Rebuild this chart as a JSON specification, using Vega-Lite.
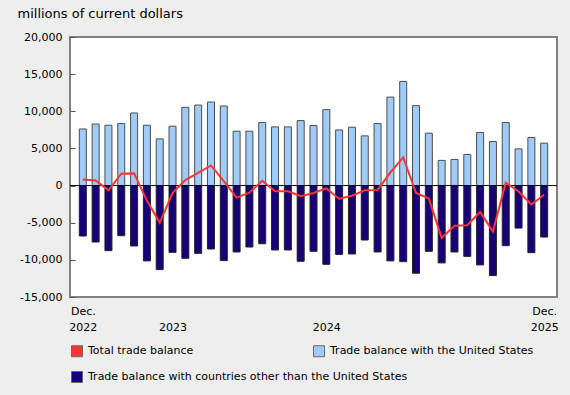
{
  "$schema": "https://vega.github.io/schema/vega-lite/v6.json",
  "width": 487,
  "height": 260,
  "autosize": {"type": "none"},
  "padding": {"left": 70, "top": 37, "right": 13, "bottom": 98},
  "background": "#eeeeee",
  "config": {
    "view": {"fill": "white", "stroke": "#808080", "strokeWidth": 2},
    "font": "DejaVu Sans",
    "axisY": {
      "labelOverlap": false, "labelBound": false, "grid": false, "domain": false,
      "ticks": true, "tickSize": -5, "tickColor": "#555555", "tickWidth": 1,
      "labelPadding": 13, "labelFontSize": 11, "labelColor": "black", "tickCount": 7
    },
    "legend": {
      "orient": "none", "symbolType": "square", "symbolSize": 121,
      "symbolStrokeColor": "#666666", "symbolStrokeWidth": 1, "labelFontSize": 11,
      "labelColor": "black", "labelOffset": 5, "title": null, "labelLimit": 400, "padding": 0
    }
  },
  "data": {
    "values": [
      {"month": "2022-12", "us": 7620, "other": -6790, "total": 830},
      {"month": "2023-01", "us": 8290, "other": -7600, "total": 690},
      {"month": "2023-02", "us": 8120, "other": -8760, "total": -640},
      {"month": "2023-03", "us": 8350, "other": -6750, "total": 1600},
      {"month": "2023-04", "us": 9770, "other": -8130, "total": 1640},
      {"month": "2023-05", "us": 8120, "other": -10140, "total": -2020},
      {"month": "2023-06", "us": 6290, "other": -11310, "total": -5020},
      {"month": "2023-07", "us": 7990, "other": -8990, "total": -1000},
      {"month": "2023-08", "us": 10530, "other": -9790, "total": 740},
      {"month": "2023-09", "us": 10840, "other": -9120, "total": 1720},
      {"month": "2023-10", "us": 11250, "other": -8540, "total": 2710},
      {"month": "2023-11", "us": 10710, "other": -10100, "total": 610},
      {"month": "2023-12", "us": 7320, "other": -8940, "total": -1620},
      {"month": "2024-01", "us": 7320, "other": -8270, "total": -950},
      {"month": "2024-02", "us": 8480, "other": -7830, "total": 650},
      {"month": "2024-03", "us": 7900, "other": -8670, "total": -770},
      {"month": "2024-04", "us": 7900, "other": -8670, "total": -770},
      {"month": "2024-05", "us": 8750, "other": -10190, "total": -1440},
      {"month": "2024-06", "us": 8080, "other": -8850, "total": -1000},
      {"month": "2024-07", "us": 10220, "other": -10600, "total": -380},
      {"month": "2024-08", "us": 7490, "other": -9260, "total": -1770},
      {"month": "2024-09", "us": 7850, "other": -9210, "total": -1360},
      {"month": "2024-10", "us": 6690, "other": -7330, "total": -640},
      {"month": "2024-11", "us": 8350, "other": -8940, "total": -590},
      {"month": "2024-12", "us": 11910, "other": -10140, "total": 1770},
      {"month": "2025-01", "us": 14020, "other": -10240, "total": 3800},
      {"month": "2025-02", "us": 10760, "other": -11800, "total": -1000},
      {"month": "2025-03", "us": 7050, "other": -8850, "total": -1750},
      {"month": "2025-04", "us": 3390, "other": -10410, "total": -7040},
      {"month": "2025-05", "us": 3520, "other": -8940, "total": -5420},
      {"month": "2025-06", "us": 4190, "other": -9530, "total": -5340},
      {"month": "2025-07", "us": 7140, "other": -10680, "total": -3550},
      {"month": "2025-08", "us": 5930, "other": -12110, "total": -6180},
      {"month": "2025-09", "us": 8480, "other": -8090, "total": 390},
      {"month": "2025-10", "us": 4940, "other": -5720, "total": -790},
      {"month": "2025-11", "us": 6470, "other": -9030, "total": -2540},
      {"month": "2025-12", "us": 5710, "other": -6930, "total": -1240}
    ]
  },
  "layer": [
    {
      "mark": {"type": "bar", "size": 7, "stroke": "#4d4d4d", "strokeWidth": 1},
      "encoding": {
        "x": {
          "field": "month", "type": "ordinal",
          "scale": {"type": "point", "padding": 1.1},
          "axis": {
            "title": null, "domain": false, "ticks": false, "labelAngle": 0,
            "labelFontSize": 11, "labelColor": "black", "labelPadding": 8,
            "labelLineHeight": 16, "labelOverlap": false, "labelBound": false,
            "labelExpr": "datum.value == '2022-12' ? ['Dec.', '2022'] : datum.value == '2023-07' ? ['', '2023'] : datum.value == '2024-07' ? ['', '2024'] : datum.value == '2025-12' ? ['Dec.', '2025'] : ''"
          }
        },
        "y": {
          "field": "us", "type": "quantitative",
          "scale": {"domain": [-15000, 20000], "nice": false},
          "axis": {
            "format": ",.0f",
            "labelExpr": "replace(datum.label, '\u2212', '-')",
            "labelOverlap": false,
            "title": "millions of current dollars", "titleAngle": 0, "titleAlign": "left",
            "titleBaseline": "alphabetic", "titleX": -53, "titleY": -20,
            "titleFontSize": 13, "titleFontWeight": "normal", "titleColor": "black"
          }
        },
        "fill": {
          "datum": "Trade balance with the United States",
          "scale": {
            "domain": ["Total trade balance", "Trade balance with the United States"],
            "range": ["#ff3333", "#a0cbf7"]
          },
          "legend": {"legendX": 1, "legendY": 308, "columns": 2, "columnPadding": 117}
        }
      }
    },
    {
      "mark": {"type": "bar", "size": 7, "stroke": "#222222", "strokeWidth": 1},
      "encoding": {
        "x": {"field": "month", "type": "ordinal"},
        "y": {"field": "other", "type": "quantitative"},
        "color": {
          "datum": "Trade balance with countries other than the United States",
          "scale": {
            "domain": ["Trade balance with countries other than the United States"],
            "range": ["#180078"]
          },
          "legend": {"legendX": 1, "legendY": 334}
        }
      }
    },
    {
      "data": {"values": [{}]},
      "mark": {"type": "rule", "color": "black", "strokeWidth": 1},
      "encoding": {"y": {"datum": 0}}
    },
    {
      "mark": {"type": "line", "color": "#ff3333", "strokeWidth": 2},
      "encoding": {
        "x": {"field": "month", "type": "ordinal"},
        "y": {"field": "total", "type": "quantitative"}
      }
    }
  ]
}
